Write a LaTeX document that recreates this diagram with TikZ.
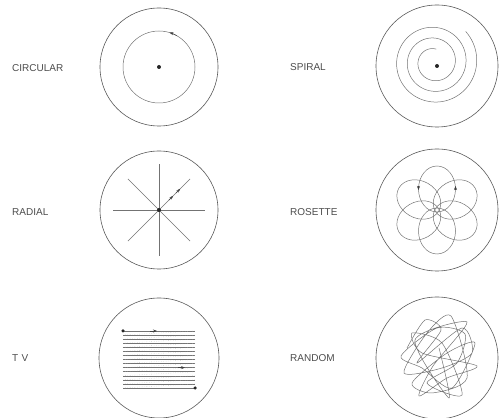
\documentclass[tikz,border=0pt]{standalone}
\usepackage{fontspec}
\setmainfont{Liberation Sans}
\usetikzlibrary{arrows.meta,positioning}

\begin{document}
\begin{tikzpicture}[
    x=1pt, y=1pt, >=Stealth,
    disc/.style={draw=black!65, line width=0.6pt, circle, inner sep=0pt},
    scan/.style={draw=black!55, line width=0.5pt},
    retrace/.style={draw=black!30, line width=0.4pt, dotted},
    lbl/.style={anchor=west, inner sep=0pt, text=black!70, font=\fontsize{10}{11}\selectfont},
    dot/.style={fill=black!85, circle, inner sep=0pt, minimum size=4pt},
    tip/.style={-{Stealth[length=4pt,width=3pt]}, draw=black!75, line width=0.5pt},
]
\useasboundingbox (0,0) rectangle (504,418);

% discs
\node[disc, minimum size=118pt] (circ) at (159,351) {};
\node[disc, minimum size=122pt] (spir) at (437,352) {};
\node[disc, minimum size=118pt] (rad)  at (159,208) {};
\node[disc, minimum size=122pt] (ros)  at (437,208) {};
\node[disc, minimum size=120pt] (tv)   at (159,60) {};
\node[disc, minimum size=122pt] (rand) at (437,60) {};

% labels
\node[lbl] (lcirc) at (12,350)  {CIRCULAR};
\node[lbl] (lspir) at (290,351) {SPIRAL};
\node[lbl] (lrad)  at (12,206)  {RADIAL};
\node[lbl] (lros)  at (290,206) {ROSETTE};
\node[lbl] (ltv)   at (12,60)   {T\,\,V};
\node[lbl] (lrand) at (290,60)  {RANDOM};

% circular scan
\draw[scan] (circ.center) circle[radius=36];
\draw[tip] ([shift={(60:36)}]circ.center) arc[start angle=60, end angle=73, radius=36];
\node[dot] (circc) at (circ.center) {};

% spiral scan
\begin{scope}[shift={(spir.center)}]
\draw[scan] plot[domain=80:1124, samples=400, smooth]
    ({-3+(13+0.029693*(\x-80))*cos(\x)}, {4+(13+0.029693*(\x-80))*sin(\x)});
\end{scope}
\node[dot] (spirc) at (spir.center) {};

% radial scan
\foreach \a in {0,90,180,270}
    \draw[scan] (rad.center) -- ++(\a:46);
\foreach \a in {45,135,225,315}
    \draw[scan] (rad.center) -- ++(\a:44);
\draw[tip] (rad.center) ++(45:14) -- ++(45:6);
\draw[tip] (rad.center) ++(45:24) -- ++(45:6);
\node[dot] (radc) at (rad.center) {};

% rosette scan: six loops through the middle
\begin{scope}[shift={(ros.center)}]
\foreach \a in {30,90,...,330}
    \draw[scan, rotate=\a] (21,0) ellipse[x radius=23, y radius=18.5];
\draw[tip] (-18.5,24) -- (-18.5,20);
\draw[tip] (18.5,20) -- (18.5,24);
\end{scope}

% tv raster
\begin{scope}[shift={(tv.center)}]
\foreach \i in {0,...,14}
    \draw[scan] (-36,{27-\i*4.07}) -- (36,{27-\i*4.07});
\foreach \i in {0,...,13}
    \draw[retrace] (36,{27-\i*4.07}) -- (-36,{27-(\i+1)*4.07});
\draw[tip] (-9,27) -- (-2,27);
\draw[tip] (19,-9.63) -- (26,-9.63);
\node[dot, minimum size=3.5pt] (tvs) at (-36,27) {};
\node[dot, minimum size=3.5pt] (tve) at (36,-30) {};
\end{scope}

% random scan
\begin{scope}[shift={(rand.center)}]
\draw[scan] plot[smooth, tension=0.45] coordinates {
    (-30,10) (-12,38) (4,28) (-20,-5) (25,30) (35,5) (5,-10) (-33,-15)
    (-10,25) (14,42) (30,-20) (-5,-35) (-25,-25) (10,5) (38,15) (15,-30)
    (-15,-10) (-36,2) (0,30) (28,24) (20,-5) (-10,-25) (25,-37) (5,15)
    (-25,25) (-15,5) (40,-8) (10,-20) (-18,-38) (-4,-8) (30,36) (-22,18)
    (12,-40) (2,10)};
\end{scope}
\end{tikzpicture}
\end{document}
